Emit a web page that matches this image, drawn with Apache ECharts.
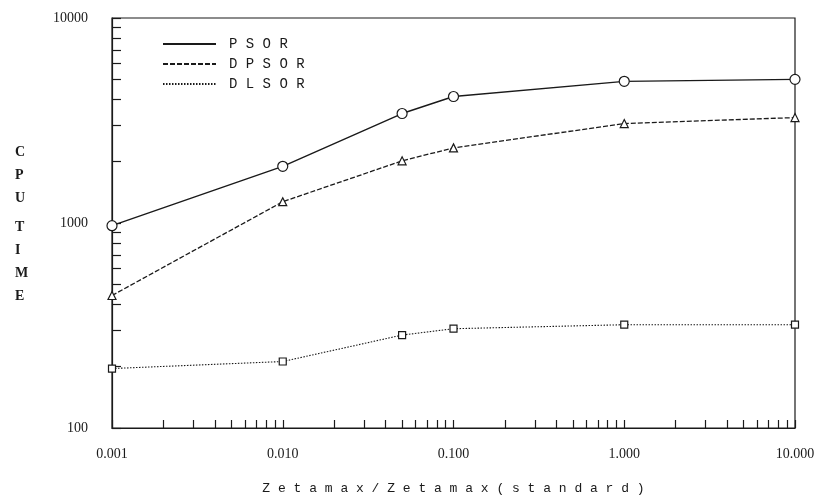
<!DOCTYPE html>
<html>
<head>
<meta charset="utf-8">
<script src="https://cdn.jsdelivr.net/npm/echarts@6/dist/echarts.min.js"></script>
<style>
html, body { margin: 0; padding: 0; background: #fff; }
#chart { width: 823px; height: 500px; }
</style>
</head>
<body>
<div id="chart"></div>
<script>
// x: Zetamax/Zetamax(standard), y: CPU time (both log)
var zetaRatio = [0.001, 0.01, 0.05, 0.1, 1, 10]
var psor = [970, 1890, 3420, 4140, 4910, 5020]
var dpsor = [443, 1270, 2010, 2325, 3056, 3267]
var dlsor = [195, 211, 284, 305, 319, 319]

var xLabelValues = [0.001, 0.01, 0.1, 1, 10]
var xLabelText = ['0.001', '0.010', '0.100', '1.000', '10.000']
var yLabelValues = [100, 1000, 10000]
var yLabelText = ['100', '1000', '10000']

var seriesNames = ['PSOR', 'DPSOR', 'DLSOR']

var ink = '#1a1a1a'

// 1..9 in every decade, for the minor ticks
function decadeTicks(lo, hi) {
  var list = []
  for (var d = lo; d < hi * 0.999; d *= 10) {
    for (var m = 1; m < 10; m++) {
      list.push(+(d * m).toPrecision(3))
    }
  }
  list.push(hi)
  return list
}

function labelFor(values, texts) {
  return function(v) {
    for (var i = 0; i < values.length; i++) {
      if (Math.abs(Math.log10(v) - Math.log10(values[i])) < 1e-6) return texts[i]
    }
    return ''
  }
}

function spaced(s) {
  return s.split('').join(' ')
}

function pairs(ys) {
  return zetaRatio.map(function(x, i) { return [x, ys[i]] })
}

var chart = echarts.init(document.getElementById('chart'))
chart.setOption({
  backgroundColor: '#fff',
  animation: false,
  grid: {
    left: 112, right: 28, top: 18, bottom: 72,
    outerBoundsMode: 'none',
    containLabel: false,
    show: true, borderColor: ink, borderWidth: 1.2
  },
  legend: {
    orient: 'vertical',
    left: 157,
    top: 32,
    itemWidth: 53,
    itemHeight: 14,
    itemGap: 6,
    data: seriesNames,
    itemStyle: { opacity: 0 },
    formatter: spaced,
    textStyle: {
      fontFamily: 'Liberation Mono', fontSize: 14, color: ink,
      padding: [0, 0, 0, 8]
    }
  },
  xAxis: {
    type: 'log',
    min: 0.001,
    max: 10,
    name: spaced('Zetamax/Zetamax(standard)'),
    nameLocation: 'middle',
    nameGap: 54,
    nameTextStyle: { fontFamily: 'Liberation Mono', fontSize: 13, color: ink },
    axisLine: { lineStyle: { color: ink, width: 1.2 } },
    axisTick: {
      inside: true, length: 8,
      customValues: decadeTicks(0.001, 10),
      lineStyle: { color: ink, width: 1.2 }
    },
    axisLabel: {
      customValues: xLabelValues,
      formatter: labelFor(xLabelValues, xLabelText),
      margin: 19,
      fontFamily: 'Liberation Serif', fontSize: 14, color: ink
    },
    splitLine: { show: false }
  },
  yAxis: {
    type: 'log',
    min: 100,
    max: 10000,
    axisLine: { lineStyle: { color: ink, width: 1.2 } },
    axisTick: {
      inside: true, length: 9,
      customValues: decadeTicks(100, 10000),
      lineStyle: { color: ink, width: 1.2 }
    },
    axisLabel: {
      customValues: yLabelValues,
      formatter: labelFor(yLabelValues, yLabelText),
      margin: 24,
      fontFamily: 'Liberation Serif', fontSize: 14, color: ink
    },
    splitLine: { show: false }
  },
  graphic: [
    {
      type: 'text', left: 15, top: 141,
      style: { text: 'C\nP\nU', lineHeight: 23, font: 'bold 14px "Liberation Serif"', fill: ink, align: 'center' }
    },
    {
      type: 'text', left: 15, top: 216,
      style: { text: 'T\nI\nM\nE', lineHeight: 23, font: 'bold 14px "Liberation Serif"', fill: ink, align: 'center' }
    }
  ],
  series: [
    {
      name: 'PSOR',
      type: 'line',
      data: pairs(psor),
      symbol: 'circle',
      symbolSize: 10,
      lineStyle: { color: ink, width: 1.4, type: 'solid' },
      itemStyle: { color: '#fff', borderColor: ink, borderWidth: 1.2 }
    },
    {
      name: 'DPSOR',
      type: 'line',
      data: pairs(dpsor),
      symbol: 'triangle',
      symbolSize: 8,
      lineStyle: { color: ink, width: 1.3, type: [5, 2] },
      itemStyle: { color: '#fff', borderColor: ink, borderWidth: 1.2 }
    },
    {
      name: 'DLSOR',
      type: 'line',
      data: pairs(dlsor),
      symbol: 'rect',
      symbolSize: 7,
      lineStyle: { color: ink, width: 1.1, type: [1.5, 1.5] },
      itemStyle: { color: '#fff', borderColor: ink, borderWidth: 1.2 }
    }
  ]
})
</script>
</body>
</html>
